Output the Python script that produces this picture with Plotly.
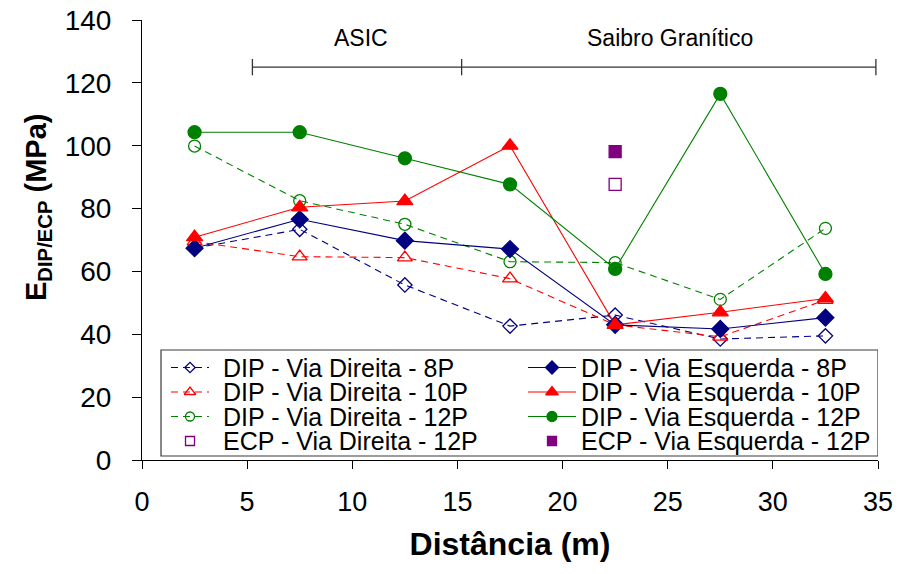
import plotly.graph_objects as go

# ---------------- data ----------------
x_dist = [2.5, 7.5, 12.5, 17.5, 22.5, 27.5, 32.5]
dip_dir_8p = [67.4, 73.4, 55.7, 42.6, 46.1, 38.5, 39.5]
dip_esq_8p = [67.4, 76.6, 69.8, 67.1, 43.0, 41.7, 45.3]
dip_dir_10p = [69.5, 64.7, 64.4, 57.7, 43.0, 39.2, 50.9]
dip_esq_10p = [70.9, 80.4, 82.4, 100.0, 43.0, 47.0, 51.4]
dip_dir_12p = [99.9, 82.5, 75.0, 63.1, 62.8, 51.1, 73.7]
dip_esq_12p = [104.3, 104.3, 96.0, 87.7, 60.8, 116.5, 59.2]
ecp_x = [22.5]
ecp_dir_12p = [87.7]
ecp_esq_12p = [98.1]

x_ticks = [0, 5, 10, 15, 20, 25, 30, 35]
y_ticks = [0, 20, 40, 60, 80, 100, 120, 140]

# zone brackets (data units)
zone_labels = ["ASIC", "Saibro Granítico"]
zone_label_x = [10.4, 25.1]
zone_edges = [5.25, 15.2, 34.9]
bracket_y = 125.0

FONT = "Liberation Sans, Arial, sans-serif"
NAVY, RED, GREEN, PURPLE = "#000080", "#FF0000", "#008000", "#800080"

series = [
    dict(name="DIP - Via Direita - 8P", x=x_dist, y=dip_dir_8p, color=NAVY, symbol="diamond-open", dash="dash", size=11, mode="lines+markers"),
    dict(name="DIP - Via Esquerda - 8P", x=x_dist, y=dip_esq_8p, color=NAVY, symbol="diamond", dash="solid", size=13, mode="lines+markers"),
    dict(name="DIP - Via Direita - 10P", x=x_dist, y=dip_dir_10p, color=RED, symbol="triangle-up-open", dash="dash", size=13, mode="lines+markers"),
    dict(name="DIP - Via Esquerda - 10P", x=x_dist, y=dip_esq_10p, color=RED, symbol="triangle-up", dash="solid", size=14, mode="lines+markers"),
    dict(name="DIP - Via Direita - 12P", x=x_dist, y=dip_dir_12p, color=GREEN, symbol="circle-open", dash="dash", size=12, mode="lines+markers"),
    dict(name="DIP - Via Esquerda - 12P", x=x_dist, y=dip_esq_12p, color=GREEN, symbol="circle", dash="solid", size=13, mode="lines+markers"),
    dict(name="ECP - Via Direita - 12P", x=ecp_x, y=ecp_dir_12p, color=PURPLE, symbol="square-open", dash="solid", size=12, mode="markers"),
    dict(name="ECP - Via Esquerda - 12P", x=ecp_x, y=ecp_esq_12p, color=PURPLE, symbol="square", dash="solid", size=12, mode="markers"),
]

fig = go.Figure()

# draw open (Direita) series first so filled ones sit on top
draw_order = [0, 2, 4, 6, 1, 3, 5, 7]
for i in draw_order:
    s = series[i]
    fig.add_trace(go.Scatter(
        x=s["x"], y=s["y"], mode=s["mode"], name=s["name"], showlegend=False,
        line=dict(color=s["color"], width=1.1, dash="7px,5px" if s["dash"] == "dash" else "solid"),
        marker=dict(symbol=s["symbol"], size=s["size"], color=s["color"],
                    line=dict(color=s["color"], width=1.3)),
        cliponaxis=False,
    ))

# ---------------- manual legend (pixel overlay axes) ----------------
PL, PR, PT, PB = 142, 878, 20, 460
leg_box = (161, 350, 878, 456)
col_line = [(171, 209), (528, 576)]
col_sym = [190, 552]
col_text = [221, 579]
row_y = [367.5, 392, 416.5, 441]

for k, s in enumerate(series):
    r, c = k // 2, k % 2
    yy = row_y[r]
    if s["mode"] != "markers":
        fig.add_trace(go.Scatter(
            x=list(col_line[c]), y=[yy, yy], mode="lines", xaxis="x2", yaxis="y2",
            showlegend=False, hoverinfo="skip",
            line=dict(color=s["color"], width=1.1, dash="7px,5px" if s["dash"] == "dash" else "solid"),
        ))
    fig.add_trace(go.Scatter(
        x=[col_sym[c]], y=[yy], mode="markers", xaxis="x2", yaxis="y2",
        showlegend=False, hoverinfo="skip",
        marker=dict(symbol=s["symbol"], size=s["size"] - 3, color=s["color"],
                    line=dict(color=s["color"], width=1.3)),
    ))

annotations = []
for k, s in enumerate(series):
    r, c = k // 2, k % 2
    annotations.append(dict(
        x=col_text[c], y=row_y[r], xref="x2", yref="y2", text=s["name"],
        showarrow=False, xanchor="left", yanchor="middle",
        font=dict(family=FONT, size=25, color="black"),
    ))

for lab, lx in zip(zone_labels, zone_label_x):
    annotations.append(dict(
        x=lx, y=134.2, xref="x", yref="y", text=lab, showarrow=False,
        xanchor="center", yanchor="middle",
        font=dict(family=FONT, size=23, color="black"),
    ))

# y-axis title placed by pixel position converted to paper coordinates
ytitle_px = (38, 207)
annotations.append(dict(
    x=(ytitle_px[0] - PL) / (PR - PL), y=(PB - ytitle_px[1]) / (PB - PT),
    xref="paper", yref="paper", text="E<sub>DIP/ECP</sub> (MPa)",
    showarrow=False, textangle=-90, xanchor="center", yanchor="middle",
    font=dict(family=FONT, size=29, color="black", weight="bold"),
))

shapes = [dict(type="rect", xref="x2", yref="y2", x0=leg_box[0], y0=leg_box[1],
               x1=leg_box[2], y1=leg_box[3], line=dict(color="#3a3a3a", width=1.2),
               fillcolor="white", layer="below")]
shapes.append(dict(type="line", xref="x", yref="y", x0=zone_edges[0], x1=zone_edges[-1],
                   y0=bracket_y, y1=bracket_y, line=dict(color="#333333", width=1.3)))
for e in zone_edges:
    shapes.append(dict(type="line", xref="x", yref="y", x0=e, x1=e,
                       y0=bracket_y - 2.6, y1=bracket_y + 2.6,
                       line=dict(color="#333333", width=1.3)))

fig.update_layout(
    width=901, height=574,
    margin=dict(l=PL, r=901 - PR, t=PT, b=574 - PB, autoexpand=False),
    paper_bgcolor="white", plot_bgcolor="white",
    font=dict(family=FONT, color="black"),
    showlegend=False,
    annotations=annotations, shapes=shapes,
    xaxis=dict(range=[0, 35], tickvals=x_ticks, ticks="outside", ticklen=8,
               tickcolor="black", showline=True, linecolor="black", linewidth=1,
               showgrid=False, zeroline=False, ticklabelstandoff=10, automargin=False,
               tickfont=dict(family=FONT, size=27, color="black"),
               title=dict(text="<b>Distância (m)</b>", standoff=16,
                          font=dict(family=FONT, size=32, color="black"))),
    yaxis=dict(range=[0, 140], tickvals=y_ticks, ticks="outside", ticklen=9,
               tickcolor="black", showline=True, linecolor="black", linewidth=1,
               showgrid=False, zeroline=False, ticklabelstandoff=15, automargin=False,
               tickfont=dict(family=FONT, size=28, color="black")),
    xaxis2=dict(overlaying="x", range=[PL, PR], visible=False, anchor="y2"),
    yaxis2=dict(overlaying="y", range=[PB, PT], visible=False, anchor="x2"),
)

fig.write_html("out.html", config={"displayModeBar": False},
               post_script="document.body.style.margin='0px';")
